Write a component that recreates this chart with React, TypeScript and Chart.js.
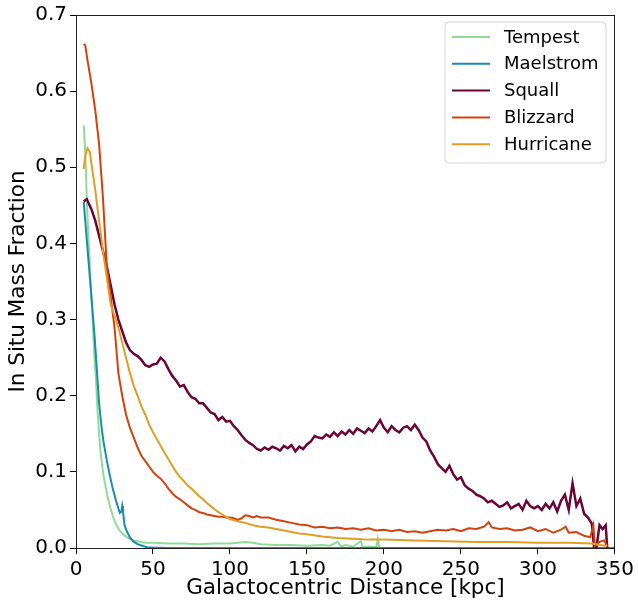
import React, { useEffect, useRef } from "react";
import { Chart, registerables } from "chart.js";

Chart.register(...registerables);

const seriesNames = ["Tempest", "Maelstrom", "Squall", "Blizzard", "Hurricane"];
const seriesColors = ["#8fdc9a", "#1a8dab", "#6a0537", "#d1420e", "#e09e24"];

const xTicks = [0, 50, 100, 150, 200, 250, 300, 350];
const yTicks = [0, 0.1, 0.2, 0.3, 0.4, 0.5, 0.6, 0.7];

const tempestX = [5, 6, 7, 8, 9, 10, 11, 12, 13, 14, 15, 16, 17, 18, 20, 22, 24, 26, 28, 30, 32.5, 35, 37.5, 40, 45, 50, 60, 70, 80, 90, 100, 105, 110, 115, 120, 130, 140, 150, 160, 165, 170, 172, 175, 180, 185, 186, 190, 195, 196, 197];
const tempestY = [0.555, 0.52, 0.46, 0.41, 0.37, 0.33, 0.29, 0.25, 0.22, 0.18, 0.15, 0.125, 0.108, 0.094, 0.072, 0.055, 0.041, 0.031, 0.024, 0.019, 0.015, 0.012, 0.01, 0.009, 0.007, 0.007, 0.006, 0.006, 0.005, 0.006, 0.006, 0.007, 0.008, 0.007, 0.005, 0.004, 0.004, 0.003, 0.004, 0.003, 0.008, 0.002, 0.004, 0.002, 0.009, 0.001, 0.002, 0.001, 0.012, 0.0];

const maelstromX = [5, 6, 7, 8, 9, 10, 11, 12, 13, 14, 15, 16, 17, 18, 20, 22, 24, 26, 27.5, 28.5, 29.5, 30, 30.5, 31.5, 33, 35, 37, 40, 43, 46, 50, 60, 350];
const maelstromY = [0.455, 0.43, 0.405, 0.38, 0.355, 0.33, 0.305, 0.28, 0.25, 0.22, 0.19, 0.17, 0.152, 0.138, 0.115, 0.095, 0.077, 0.062, 0.052, 0.046, 0.048, 0.055, 0.048, 0.03, 0.022, 0.014, 0.009, 0.005, 0.003, 0.001, 0.0005, 0, 0];

const squallX = [5, 7, 10, 12.5, 15, 17.5, 20, 22.5, 25, 27.5, 30, 32.5, 35, 37.5, 40, 42.5, 45, 47.5, 50, 52.5, 55, 57.5, 60, 62.5, 65, 67.5, 70, 72.5, 75, 77.5, 80, 82.5, 85, 87.5, 90, 92.5, 95, 97.5, 100, 102.5, 105, 107.5, 110, 112.5, 115, 117.5, 120, 122.5, 125, 127.5, 130, 132.5, 135, 137.5, 140, 142.5, 145, 147.5, 150, 152.5, 155, 157.5, 160, 162.5, 165, 167.5, 170, 172.5, 175, 177.5, 180, 182.5, 185, 187.5, 190, 192.5, 195, 197.5, 200, 202.5, 205, 207.5, 210, 212.5, 215, 217.5, 220, 222.5, 225, 227.5, 230, 232.5, 235, 237.5, 240, 242.5, 245, 247.5, 250, 252.5, 255, 257.5, 260, 262.5, 265, 267.5, 270, 272.5, 275, 277.5, 280, 282.5, 285, 287.5, 290, 292.5, 295, 297.5, 300, 302.5, 305, 307.5, 310, 312.5, 315, 317.5, 320, 322.5, 325, 327.5, 330, 332.5, 335, 336.5, 338, 340, 342, 344, 345];
const squallY = [0.455, 0.458, 0.445, 0.43, 0.41, 0.39, 0.37, 0.345, 0.32, 0.3, 0.285, 0.27, 0.26, 0.255, 0.252, 0.247, 0.24, 0.238, 0.241, 0.242, 0.25, 0.245, 0.235, 0.226, 0.22, 0.212, 0.214, 0.205, 0.198, 0.196, 0.19, 0.19, 0.184, 0.178, 0.176, 0.168, 0.172, 0.166, 0.167, 0.16, 0.155, 0.148, 0.142, 0.138, 0.135, 0.13, 0.128, 0.132, 0.129, 0.133, 0.131, 0.128, 0.134, 0.131, 0.135, 0.127, 0.133, 0.13, 0.136, 0.14, 0.147, 0.145, 0.144, 0.149, 0.146, 0.152, 0.147, 0.153, 0.149, 0.155, 0.15, 0.157, 0.154, 0.151, 0.157, 0.153, 0.16, 0.168, 0.158, 0.152, 0.16, 0.155, 0.152, 0.158, 0.16, 0.155, 0.162, 0.155, 0.145, 0.14, 0.128, 0.12, 0.11, 0.105, 0.1, 0.108, 0.097, 0.09, 0.093, 0.082, 0.078, 0.075, 0.07, 0.068, 0.065, 0.06, 0.062, 0.058, 0.054, 0.056, 0.06, 0.052, 0.055, 0.058, 0.05, 0.062, 0.055, 0.052, 0.055, 0.05, 0.058, 0.052, 0.06, 0.048, 0.062, 0.07, 0.05, 0.085, 0.055, 0.065, 0.045, 0.04, 0.032, 0.0, 0.0, 0.03, 0.025, 0.03, 0.0];

const blizzardX = [5, 6, 7.5, 10, 12.5, 15, 17.5, 20, 22.5, 25, 27.5, 30, 32.5, 35, 37.5, 40, 42.5, 45, 47.5, 50, 52.5, 55, 57.5, 60, 62.5, 65, 67.5, 70, 72.5, 75, 77.5, 80, 82.5, 85, 87.5, 90, 92.5, 95, 97.5, 100, 102.5, 105, 107.5, 110, 112.5, 115, 117.5, 120, 125, 130, 135, 140, 145, 150, 155, 160, 165, 170, 175, 180, 185, 190, 195, 200, 205, 210, 215, 220, 225, 230, 235, 240, 245, 250, 255, 260, 265, 268, 270, 275, 280, 285, 290, 295, 300, 305, 310, 315, 318, 320, 325, 330, 334, 336, 337, 340, 343, 345];
const blizzardY = [0.662, 0.66, 0.64, 0.61, 0.575, 0.53, 0.46, 0.37, 0.33, 0.29, 0.23, 0.2, 0.175, 0.158, 0.145, 0.132, 0.121, 0.114, 0.107, 0.1, 0.095, 0.091, 0.085, 0.078, 0.072, 0.067, 0.064, 0.06, 0.056, 0.052, 0.05, 0.047, 0.046, 0.044, 0.043, 0.042, 0.041, 0.041, 0.04, 0.04, 0.039, 0.037, 0.039, 0.043, 0.042, 0.04, 0.042, 0.04, 0.04, 0.037, 0.035, 0.033, 0.031, 0.03, 0.027, 0.028, 0.026, 0.027, 0.025, 0.026, 0.024, 0.026, 0.023, 0.024, 0.022, 0.024, 0.021, 0.022, 0.02, 0.022, 0.024, 0.023, 0.025, 0.022, 0.026, 0.025, 0.028, 0.034, 0.027, 0.025, 0.026, 0.023, 0.024, 0.027, 0.022, 0.025, 0.02, 0.024, 0.028, 0.02, 0.021, 0.016, 0.014, 0.03, 0.003, 0.008, 0.01, 0.002];

const hurricaneX = [5, 6, 7.5, 9, 10, 12.5, 15, 17.5, 20, 22.5, 25, 27.5, 30, 32.5, 35, 37.5, 40, 42.5, 45, 47.5, 50, 52.5, 55, 57.5, 60, 62.5, 65, 67.5, 70, 72.5, 75, 77.5, 80, 82.5, 85, 87.5, 90, 92.5, 95, 97.5, 100, 105, 110, 115, 120, 125, 130, 135, 140, 145, 150, 160, 170, 180, 190, 200, 220, 240, 260, 280, 300, 320, 335, 340, 345];
const hurricaneY = [0.498, 0.515, 0.525, 0.52, 0.505, 0.47, 0.43, 0.39, 0.355, 0.32, 0.305, 0.29, 0.27, 0.25, 0.23, 0.213, 0.2, 0.186, 0.175, 0.162, 0.152, 0.143, 0.134, 0.125, 0.117, 0.108, 0.1, 0.093, 0.088, 0.082, 0.078, 0.073, 0.068, 0.064, 0.059, 0.055, 0.051, 0.047, 0.044, 0.041, 0.038, 0.035, 0.033, 0.03, 0.028, 0.027, 0.025, 0.023, 0.021, 0.019, 0.018, 0.015, 0.013, 0.012, 0.011, 0.011, 0.01, 0.009, 0.008, 0.008, 0.007, 0.007, 0.006, 0.004, 0.003];

const seriesX = [tempestX, maelstromX, squallX, blizzardX, hurricaneX];
const seriesY = [tempestY, maelstromY, squallY, blizzardY, hurricaneY];

const FONT = "'DejaVu Sans', sans-serif";

const framePlugin = {
  id: "frame",
  afterDatasetsDraw(chart: any) {
    const { ctx, chartArea } = chart;
    ctx.save();
    ctx.strokeStyle = "#222";
    ctx.lineWidth = 1;
    ctx.strokeRect(Math.round(chartArea.left) + 0.5, Math.round(chartArea.top) + 0.5, Math.round(chartArea.right - chartArea.left) - 1, Math.round(chartArea.bottom - chartArea.top));
    ctx.restore();
  },
  afterDraw(chart: any) {
    const { ctx } = chart;
    ctx.save();
    const bx = 445, by = 22, bw = 161, bh = 141, r = 4;
    ctx.fillStyle = "rgba(255,255,255,0.8)";
    ctx.strokeStyle = "#d5d5d5";
    ctx.lineWidth = 1;
    ctx.beginPath();
    ctx.moveTo(bx + r, by);
    ctx.lineTo(bx + bw - r, by);
    ctx.quadraticCurveTo(bx + bw, by, bx + bw, by + r);
    ctx.lineTo(bx + bw, by + bh - r);
    ctx.quadraticCurveTo(bx + bw, by + bh, bx + bw - r, by + bh);
    ctx.lineTo(bx + r, by + bh);
    ctx.quadraticCurveTo(bx, by + bh, bx, by + bh - r);
    ctx.lineTo(bx, by + r);
    ctx.quadraticCurveTo(bx, by, bx + r, by);
    ctx.closePath();
    ctx.fill();
    ctx.stroke();
    ctx.font = `18px ${FONT}`;
    ctx.textBaseline = "middle";
    ctx.textAlign = "left";
    chart.data.datasets.forEach((ds: any, i: number) => {
      const y = 37 + i * 26.8;
      ctx.strokeStyle = ds.borderColor;
      ctx.lineWidth = 2;
      ctx.beginPath();
      ctx.moveTo(452, y);
      ctx.lineTo(490, y);
      ctx.stroke();
      ctx.fillStyle = "#000";
      ctx.fillText(ds.label, 504, y + 1);
    });
    ctx.restore();
  },
};

export default function App() {
  const ref = useRef<HTMLCanvasElement | null>(null);
  useEffect(() => {
    if (!ref.current) return;
    const datasets = seriesNames.map((name, i) => ({
      label: name,
      data: seriesX[i].map((x, j) => ({ x, y: seriesY[i][j] })),
      borderColor: seriesColors[i],
      backgroundColor: seriesColors[i],
      borderWidth: i === 2 ? 2.5 : 2,
      pointRadius: 0,
      tension: 0,
      fill: false,
      order: 5 - i,
    }));
    const chart = new Chart(ref.current, {
      type: "line",
      data: { datasets },
      plugins: [framePlugin],
      options: {
        animation: false,
        responsive: false,
        maintainAspectRatio: false,
        layout: { padding: { left: 0, top: 12, right: 22, bottom: 0 } },
        plugins: { legend: { display: false }, tooltip: { enabled: false } },
        scales: {
          x: {
            type: "linear",
            min: 0,
            max: 350,
            afterBuildTicks: (s: any) => { s.ticks = xTicks.map((v) => ({ value: v })); },
            afterFit: (s: any) => { s.height = 53; },
            ticks: { color: "#000", font: { family: FONT, size: 20 }, padding: 4, maxRotation: 0 },
            grid: { display: true, drawOnChartArea: false, drawTicks: true, tickLength: 6, color: "#000" },
            border: { display: true, color: "#222" },
            title: { display: true, text: "Galactocentric Distance [kpc]", color: "#000", font: { family: FONT, size: 21.5 }, padding: { top: 0, bottom: 0 } },
          },
          y: {
            type: "linear",
            min: 0,
            max: 0.7,
            afterBuildTicks: (s: any) => { s.ticks = yTicks.map((v) => ({ value: v })); },
            afterFit: (s: any) => { s.width = 76; },
            ticks: { color: "#000", font: { family: FONT, size: 20 }, padding: 3, callback: (v: any) => Number(v).toFixed(1) },
            grid: { display: true, drawOnChartArea: false, drawTicks: true, tickLength: 6, color: "#000" },
            border: { display: true, color: "#222" },
            title: { display: true, text: "In Situ Mass Fraction", color: "#000", font: { family: FONT, size: 21.5 }, padding: { top: 6, bottom: 0 } },
          },
        },
      },
    } as any);
    return () => chart.destroy();
  }, []);
  return (
    <div style={{ position: "absolute", left: 0, top: 0, width: 638, height: 601, background: "#fff" }}>
      <canvas ref={ref} width={638} height={601} style={{ width: 638, height: 601 }} />
    </div>
  );
}
